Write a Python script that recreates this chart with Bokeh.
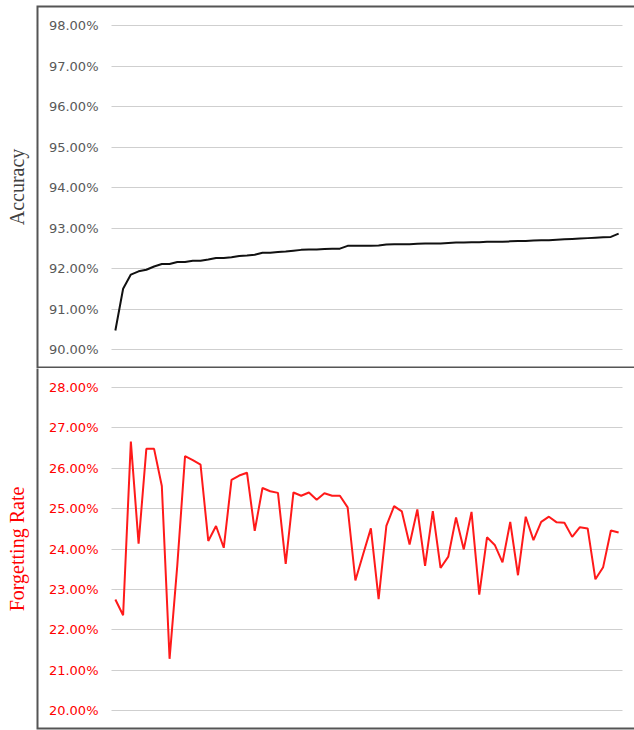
from bokeh.plotting import figure
from bokeh.layouts import column
from bokeh.models import Range1d, FixedTicker, PrintfTickFormatter, BoxAnnotation
from bokeh.embed import file_html
from bokeh.resources import INLINE

# ---- data ----
accuracy = [90.47, 91.50, 91.85, 91.93, 91.97, 92.05, 92.11, 92.11, 92.16, 92.16,
            92.19, 92.19, 92.22, 92.26, 92.26, 92.28, 92.31, 92.32, 92.34, 92.39,
            92.39, 92.41, 92.42, 92.44, 92.46, 92.47, 92.47, 92.48, 92.49, 92.49,
            92.56, 92.56, 92.56, 92.56, 92.57, 92.59, 92.60, 92.60, 92.60, 92.61,
            92.62, 92.62, 92.62, 92.63, 92.64, 92.64, 92.65, 92.65, 92.66, 92.66,
            92.66, 92.67, 92.68, 92.68, 92.69, 92.70, 92.70, 92.71, 92.72, 92.73,
            92.74, 92.75, 92.76, 92.77, 92.78, 92.86]

forgetting = [22.75, 22.36, 26.66, 24.13, 26.48, 26.48, 25.56, 21.28, 23.60, 26.30,
              26.20, 26.09, 24.20, 24.57, 24.03, 25.71, 25.82, 25.89, 24.45, 25.51,
              25.43, 25.39, 23.63, 25.40, 25.32, 25.40, 25.22, 25.38, 25.32, 25.32,
              25.03, 23.22, 23.87, 24.51, 22.76, 24.57, 25.06, 24.93, 24.11, 24.98,
              23.58, 24.94, 23.53, 23.81, 24.78, 23.99, 24.92, 22.87, 24.29, 24.10,
              23.67, 24.67, 23.35, 24.80, 24.22, 24.67, 24.80, 24.66, 24.65, 24.30,
              24.54, 24.51, 23.25, 23.55, 24.46, 24.41]

steps = list(range(len(accuracy)))
acc_ticks = [90, 91, 92, 93, 94, 95, 96, 97, 98]
fr_ticks = [20, 21, 22, 23, 24, 25, 26, 27, 28]

W = 634          # figure width
FL = 36          # frame left (canvas px) = box left edge
PLOT_L = 111     # where the category band starts (canvas px)
PLOT_R = 622     # where the category band ends (canvas px)
LABEL_R = 98     # right edge of the tick labels
N = len(accuracy)
PX = (PLOT_R - PLOT_L) / N
X0 = -0.5 - (PLOT_L - FL) / PX
X1 = N - 0.5 + (W - PLOT_R) / PX


def make_panel(height, border_top, border_bottom, y_start, y_end, ticks, label,
               label_color, tick_color, values, line_color, draw_top):
    p = figure(width=W, height=height, output_backend="svg", toolbar_location=None,
               title=None, x_range=Range1d(X0, X1),
               y_range=Range1d(y_start, y_end), x_axis_type=None,
               min_border_left=FL, min_border_right=0,
               min_border_top=border_top, min_border_bottom=border_bottom)
    p.outline_line_color = None
    p.background_fill_color = "white"
    p.border_fill_color = "white"

    ticker = FixedTicker(ticks=ticks)
    ax = p.yaxis[0]
    ax.ticker = ticker
    ax.formatter = PrintfTickFormatter(format="%.2f%%")
    ax.axis_line_color = None
    ax.major_tick_line_color = None
    ax.minor_tick_line_color = None
    ax.major_tick_out = 0
    ax.major_tick_in = 0
    ax.major_label_standoff = -(LABEL_R - FL)
    ax.major_label_text_font = "DejaVu Sans"
    ax.major_label_text_font_size = "13px"
    ax.major_label_text_color = tick_color
    ax.axis_label = label
    ax.axis_label_text_font = "Liberation Serif"
    ax.axis_label_text_font_size = "20px"
    ax.axis_label_text_font_style = "normal"
    ax.axis_label_text_color = label_color
    ax.axis_label_standoff = 18

    p.ygrid.ticker = ticker
    p.ygrid.grid_line_color = "#cfcfcf"
    p.ygrid.grid_line_width = 1

    # white covers so that the grid only spans the category band
    for lo, hi in ((X0 - 1, -0.5), (N - 0.5, X1 + 1)):
        p.add_layout(BoxAnnotation(left=lo, right=hi, fill_color="white", fill_alpha=1,
                                   line_color=None, level="glyph"))

    p.line(steps, values, line_color=line_color, line_width=2)

    span = y_end - y_start
    box = BoxAnnotation(left=X0, right=X1 + 5,
                        top=y_end if draw_top else y_end + span,
                        bottom=y_start,
                        fill_color=None, fill_alpha=0,
                        line_color="#555555", line_alpha=1, line_width=4)
    p.add_layout(box)
    return p


H1, H2 = 368, 362
# top panel: frame 5..368, 98% at y=25, 90% at y=349
p1 = make_panel(H1, 5, 0, 90 - (368 - 349) / 40.5, 98 + (25 - 5) / 40.5, acc_ticks,
                "Accuracy", "#404040", "#595959", accuracy, "#111111", True)
# bottom panel: frame 0..361 (canvas), 28% at 19, 20% at 342
k = (342 - 19) / 8
p2 = make_panel(H2, 0, 1, 20 - (361 - 342) / k, 28 + 19 / k, fr_ticks,
                "Forgetting Rate", "#ff0000", "#ff0000", forgetting, "#ff1a1a", False)

layout = column(p1, p2, spacing=0)
open("out.html", "w").write(file_html(layout, INLINE))
